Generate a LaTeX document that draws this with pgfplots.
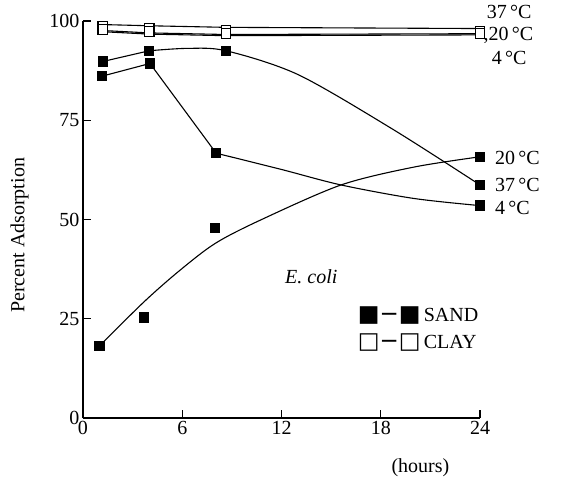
\documentclass[border=0pt]{standalone}
\usepackage{fontspec}
\setmainfont{Liberation Serif}
\newfontfamily\symfont{DejaVu Sans}
\usepackage{pgfplots}
\pgfplotsset{compat=1.18}
\begin{document}
\begin{tikzpicture}[font=\fontsize{20bp}{24bp}\selectfont]
\useasboundingbox (-83bp,-70bp) rectangle (478bp,418bp);
\begin{axis}[
  at={(0,0)}, anchor=south west,
  scale only axis, width=397bp, height=397bp,
  xmin=0, xmax=24, ymin=0, ymax=100,
  axis x line=bottom, axis y line=left,
  axis line style={-, line width=1.6bp},
  xtick={0,6,12,18,24}, ytick={0,25,50,75,100},
  tick align=inside, major tick length=8bp,
  tick style={line width=1.2bp, black},
  /pgf/number format/assume math mode=true,
  ticklabel style={font=\fontsize{20bp}{24bp}\selectfont},
  ylabel={Percent Adsorption},
  ylabel style={at={(axis description cs:-0.16,0.46)}, anchor=center, font=\fontsize{20bp}{24bp}\selectfont},
  clip=false,
  every axis plot/.append style={line width=1.1bp, black},
]
% CLAY lines
\addplot[mark=none] coordinates {(1.2,99.1)(4.0,98.8)(8.65,98.4)(24,98.1)};
\addplot[mark=none] coordinates {(1.2,97.6)(4.0,97.0)(8.65,96.6)(24,96.8)};
\addplot[mark=none] coordinates {(1.2,97.3)(4.0,96.7)(8.65,96.3)(24,96.5)};
% SAND 37 C
\addplot[mark=none, smooth] coordinates {(1.2,89.8)(4.0,92.5)};
\addplot[mark=none, smooth] coordinates {(4.0,92.5)(6.3,93.1)(8.65,92.5)(13,86.5)(18.7,72.8)(24,58.7)};
% SAND 4 C
\addplot[mark=none] coordinates {(1.15,86.1)(4.05,89.3)(8.05,66.7)};
\addplot[mark=none, smooth] coordinates {(8.05,66.7)(12,62.6)(15.6,58.7)(20,55.3)(24,53.5)};
% SAND 20 C (fitted curve)
\addplot[mark=none, smooth] coordinates {(1.0,18.2)(3.7,29.3)(5.8,37.0)(8.0,44.0)(10.75,49.9)(15.6,58.7)(20,63.2)(24,65.8)};
% markers
\addplot[only marks, mark=square*, mark size=4.8bp, mark options={fill=white, draw=black, line width=1.1bp}] coordinates {(1.2,98.6)(4.0,98.1)(8.65,97.6)(24,97.5)};
\addplot[only marks, mark=square*, mark size=4.8bp, mark options={fill=white, draw=black, line width=1.1bp}] coordinates {(1.2,97.8)(4.0,97.3)(8.65,96.9)(24,96.9)};
\addplot[only marks, mark=square*, mark size=4.6bp, mark options={fill=black, draw=black}] coordinates {(1.2,89.8)(4.0,92.5)(8.65,92.5)(24,58.7)};
\addplot[only marks, mark=square*, mark size=4.6bp, mark options={fill=black, draw=black}] coordinates {(1.15,86.1)(4.05,89.3)(8.05,66.7)(24,53.5)};
\addplot[only marks, mark=square*, mark size=4.6bp, mark options={fill=black, draw=black}] coordinates {(1.0,18.2)(3.7,25.3)(8.0,47.9)(24,65.8)};
% labels
\node[anchor=west, inner sep=0pt] at (axis cs:24.4,102.2) {37\,°C};
\node[anchor=west, inner sep=0pt] at (axis cs:24.2,96.3) {,20\,°C};
\node[anchor=west, inner sep=0pt] at (axis cs:24.7,90.6) {4\,°C};
\node[anchor=west, inner sep=0pt] at (axis cs:24.9,65.6) {20\,°C};
\node[anchor=west, inner sep=0pt] at (axis cs:24.9,58.6) {37\,°C};
\node[anchor=west, inner sep=0pt] at (axis cs:24.9,52.8) {4\,°C};
\node[anchor=center] at (axis cs:13.8,35.5) {\textit{E. coli}};
\node[anchor=west, inner sep=0pt] at (axis cs:16.6,25.9) {{\symfont\fontsize{23bp}{24bp}\selectfont ■−■}\,SAND};
\node[anchor=west, inner sep=0pt] at (axis cs:16.6,19.1) {{\symfont\fontsize{23bp}{24bp}\selectfont □−□}\,CLAY};
\node[anchor=center] at (axis cs:20.4,-12.6) {(hours)};
\end{axis}
\end{tikzpicture}
\end{document}
